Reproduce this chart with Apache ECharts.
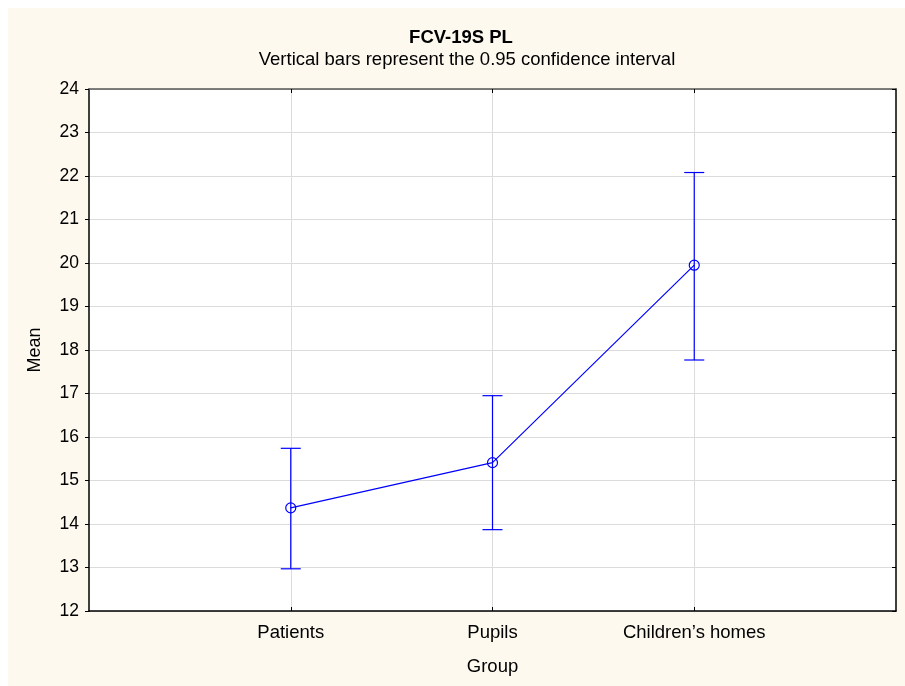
<!DOCTYPE html>
<html>
<head>
<meta charset="utf-8">
<script src="https://cdn.jsdelivr.net/npm/echarts@6/dist/echarts.min.js"></script>
<style>
  html, body { margin: 0; padding: 0; overflow: hidden; background: #fff; }
</style>
</head>
<body>
<div id="main" style="width: 905px; height: 686px;"></div>
<script>
// data
var groups = ["Patients", "Pupils", "Children\u2019s homes"];
var means = [14.37, 15.41, 19.95];
var lower = [12.97, 13.87, 17.77];
var upper = [15.74, 16.95, 22.08];
var yTicks = [12, 13, 14, 15, 16, 17, 18, 19, 20, 21, 22, 23, 24];

var blue = '#0000ff';
var font = 'Arial, "Liberation Sans", sans-serif';

var linePts = means.map(function (m, i) { return [i + 1, m]; });
var barPts = means.map(function (m, i) { return [i + 1, lower[i], upper[i]]; });

var myChart = echarts.init(document.getElementById('main'));
myChart.setOption({
    backgroundColor: '#fff',
    animation: false,
    // cream panel behind everything
    graphic: [{
        type: 'rect', z: -10, silent: true,
        shape: { x: 8, y: 8, width: 897, height: 678 },
        style: { fill: '#fdf9ef' }
    }],
    title: [{
        text: 'FCV-19S PL',
        left: 456, textAlign: 'center',
        top: 23,
        textStyle: { fontFamily: font, fontSize: 18.5, fontWeight: 'bold', color: '#000' }
    }, {
        text: 'Vertical bars represent the 0.95 confidence interval',
        left: 462, textAlign: 'center',
        top: 45,
        textStyle: { fontFamily: font, fontSize: 18.5, fontWeight: 'normal', color: '#000' }
    }],
    grid: { left: 89, right: 9, top: 89, bottom: 75, backgroundColor: '#fff', show: true, borderWidth: 0 },
    xAxis: [{
        type: 'value',
        min: 0, max: 4, interval: 1,
        name: 'Group',
        nameLocation: 'middle',
        nameGap: 46,
        nameTextStyle: { fontFamily: font, fontSize: 18.5, color: '#000' },
        axisLine: { show: true, onZero: false, lineStyle: { color: '#000', width: 1.5 } },
        axisTick: { show: true, inside: true, length: 4, lineStyle: { color: '#000' },
            customValues: [1, 2, 3] },
        axisLabel: {
            fontFamily: font, fontSize: 18.5, color: '#000', margin: 12,
            customValues: [1, 2, 3],
            formatter: function (v) { return groups[v - 1] || ''; }
        },
        splitLine: { show: true, lineStyle: { color: '#dcdcdc' } }
    }, {
        type: 'value', position: 'top',
        min: 0, max: 4, interval: 1,
        axisLine: { show: true, onZero: false, lineStyle: { color: '#555', width: 1.5 } },
        axisTick: { show: true, inside: true, length: 4, lineStyle: { color: '#000' }, customValues: [1, 2, 3] },
        axisLabel: { show: false },
        splitLine: { show: false }
    }],
    yAxis: [{
        type: 'value',
        min: 12, max: 24, interval: 1,
        name: 'Mean',
        nameLocation: 'middle',
        nameGap: 45,
        nameTextStyle: { fontFamily: font, fontSize: 18, color: '#000' },
        axisLine: { show: true, onZero: false, lineStyle: { color: '#000', width: 1.5 } },
        axisTick: { show: true, length: 4, lineStyle: { color: '#000' } },
        axisLabel: {
            fontFamily: font, fontSize: 17.5, color: '#000', margin: 10,
            customValues: yTicks
        },
        splitLine: { show: true, lineStyle: { color: '#dcdcdc' } }
    }, {
        type: 'value', position: 'right',
        min: 12, max: 24, interval: 1,
        axisLine: { show: true, onZero: false, lineStyle: { color: '#000', width: 1.5 } },
        axisTick: { show: true, inside: true, length: 4, lineStyle: { color: '#000' } },
        axisLabel: { show: false },
        splitLine: { show: false }
    }],
    series: [{
        type: 'custom',
        name: 'CI',
        z: 3,
        data: barPts,
        renderItem: function (params, api) {
            var x = api.value(0);
            var lo = api.coord([x, api.value(1)]);
            var hi = api.coord([x, api.value(2)]);
            var half = 10;
            var st = { stroke: blue, lineWidth: 1.2 };
            return {
                type: 'group',
                children: [
                    { type: 'line', shape: { x1: lo[0], y1: lo[1], x2: hi[0], y2: hi[1] }, style: st },
                    { type: 'line', shape: { x1: lo[0] - half, y1: lo[1], x2: lo[0] + half, y2: lo[1] }, style: st },
                    { type: 'line', shape: { x1: hi[0] - half, y1: hi[1], x2: hi[0] + half, y2: hi[1] }, style: st }
                ]
            };
        }
    }, {
        type: 'line',
        name: 'Mean',
        z: 4,
        data: linePts,
        symbol: 'circle',
        symbolSize: 10,
        itemStyle: { color: 'rgba(255,255,255,0)', borderColor: blue, borderWidth: 1.2 },
        lineStyle: { color: blue, width: 1.2 }
    }]
});
</script>
</body>
</html>
